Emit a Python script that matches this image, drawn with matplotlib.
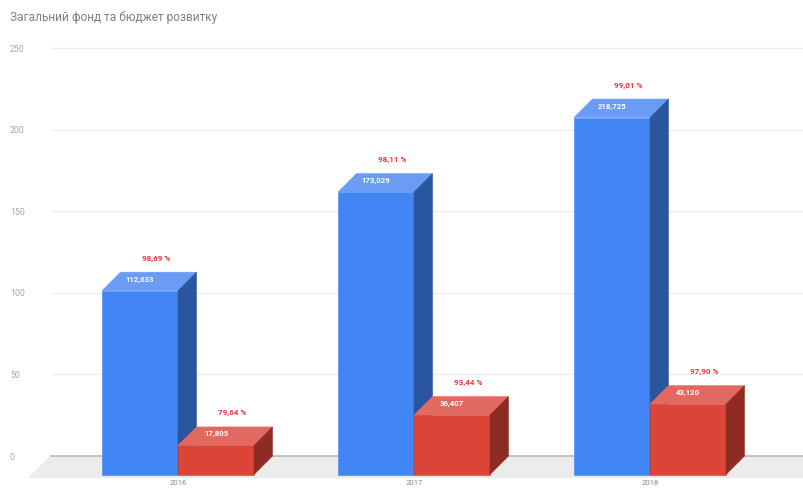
import matplotlib
matplotlib.use("Agg")
import numpy as np
from matplotlib import pyplot as plt
from matplotlib.patches import Polygon

plt.rcParams['font.family'] = ['Roboto', 'DejaVu Sans']

# Data
title = "Загальний фонд та бюджет розвитку"
years = ["2016", "2017", "2018"]
general = [112.633, 173.029, 218.725]
development = [17.805, 36.407, 43.120]
general_labels = ["112,633", "173,029", "218,725"]
development_labels = ["17,805", "36,407", "43,120"]
general_pct = ["98,69 %", "98,11 %", "99,01 %"]
development_pct = ["79,64 %", "93,44 %", "97,90 %"]
y_ticks = [0, 50, 100, 150, 200, 250]

# Scale of the picture, pixels per data unit
W, H = 804, 488
px_y = 408 / 250
px_x = 236.0
y_zero = 456
x_first = 178
bar_w = 76 / px_x
dx = 18.5 / px_x
dy = 18.5 / px_y

fig = plt.figure(figsize=(W / 100, H / 100), dpi=100)
ax = fig.add_axes([0, 0, 1, 1])
ax.set_xlim(-x_first / px_x, (W - x_first) / px_x)
ax.set_ylim((y_zero - H) / px_y, y_zero / px_y)
for s in ax.spines.values():
    s.set_visible(False)


def draw_bar(x0, value, front, top, side, z):
    x1 = x0 + bar_w
    ax.bar(x0, value, bar_w, bottom=-dy, align='edge', color=front, zorder=z,
           edgecolor=front, linewidth=0.4)
    fy = value - dy
    ax.add_patch(Polygon([(x0, fy), (x1, fy), (x1 + dx, value), (x0 + dx, value)],
                         facecolor=top, edgecolor=top, linewidth=0.4, zorder=z))
    ax.add_patch(Polygon([(x1, fy), (x1 + dx, value), (x1 + dx, 0), (x1, -dy)],
                         facecolor=side, edgecolor=side, linewidth=0.4, zorder=z))


# Floor and grid
x_left = (50 - x_first) / px_x
x_right = ax.get_xlim()[1] + 0.1
ax.add_patch(Polygon([(x_left, 0), (x_right, 0), (x_right - dx * 1.2, -dy * 1.2), (x_left - dx * 1.2, -dy * 1.2)],
                     facecolor="#ececec", edgecolor="none", zorder=1))
ax.hlines([t for t in y_ticks if t > 0], x_left, x_right, color="#efefef", linewidth=1.0, zorder=1)
ax.hlines(0, x_left, x_right, color="#bdbdbd", linewidth=1.3, zorder=2)

for i in range(len(years)):
    draw_bar(i - bar_w, general[i], "#4285f4", "#6a9cf6", "#2a56a0", 3 + i)
    draw_bar(i, development[i], "#db4437", "#e2695f", "#8e2c23", 3.5 + i)

    for x0, v, lab, pct in [(i - bar_w, general[i], general_labels[i], general_pct[i]),
                            (i, development[i], development_labels[i], development_pct[i])]:
        xc = x0 + bar_w / 2
        ax.annotate(lab, (xc, v), xytext=(0, -7 * 0.72), textcoords='offset points',
                    ha='center', va='center', color="white", fontsize=5.6, fontweight='bold', zorder=10)
        ax.annotate(pct, (xc, v), xytext=(16 * 0.72, 14 * 0.72), textcoords='offset points',
                    ha='center', va='center', color="#f4323c", fontsize=5.8, fontweight='bold', zorder=10)

# Axis labels
ax.set_yticks(y_ticks)
ax.set_yticklabels([str(t) for t in y_ticks], ha='left')
ax.set_xticks(range(len(years)))
ax.set_xticklabels(years)
ax.tick_params(axis='y', length=0, pad=-7.2, labelsize=6.3, labelcolor="#a6a6a6")
ax.tick_params(axis='x', length=0, pad=-5.6, labelsize=5.6, labelcolor="#8a8a8a")

ax.text(10 / W, 1 - 18 / H, title, transform=ax.transAxes, ha='left', va='center',
        fontsize=8.6, color="#808080")

fig.savefig("out.png", dpi=100)
